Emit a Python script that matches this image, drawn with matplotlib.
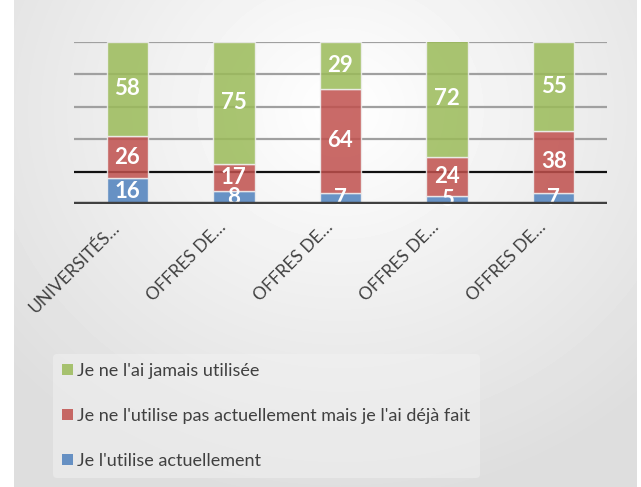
import numpy as np
import matplotlib.pyplot as plt
import matplotlib.transforms as mtransforms
from matplotlib.patches import Patch

plt.rcParams['font.family'] = ['Lato', 'DejaVu Sans']

categories = ["UNIVERSITÉS…", "OFFRES DE…", "OFFRES DE…", "OFFRES DE…", "OFFRES DE…"]
actuel = [16, 8, 7, 5, 7]
deja_fait = [26, 17, 64, 24, 38]
jamais = [58, 75, 29, 72, 55]

series_names = ["Je l'utilise actuellement",
                "Je ne l'utilise pas actuellement mais je l'ai déjà fait",
                "Je ne l'ai jamais utilisée"]
colors = ["#4F81BD", "#C0504D", "#9BBB59"]

W, H = 641, 487
fig = plt.figure(figsize=(W / 100, H / 100), dpi=100, facecolor="white")

# radial grey background
bg = fig.add_axes([14 / W, 0, (637 - 14) / W, 1], zorder=-10)
yy, xx = np.mgrid[0:H, 14:637]
r = np.sqrt(((xx - 340) / 400.0) ** 2 + ((yy - 110) / 360.0) ** 2)
shade = np.clip(1.0 - 0.12 * r, 0.87, 1.0)
bg.imshow(shade, cmap="gray", vmin=0, vmax=1, aspect="auto", interpolation="bilinear")
bg.axis("off")

ax = fig.add_axes([74 / W, 1 - 204 / H, (607 - 74) / W, (204 - 42) / H])
ax.patch.set_alpha(0)
x = np.arange(len(categories))

for lvl in [40, 60, 80, 100]:
    ax.axhline(lvl, color="#a0a0a0", lw=1.6, zorder=1)
ax.axhline(20, color="#111111", lw=1.6, zorder=1)

bottom = np.zeros(len(categories))
for vals, col in zip([actuel, deja_fait, jamais], colors):
    vals = np.array(vals)
    ax.bar(x, vals, 0.39, bottom=bottom, color=col, alpha=0.85,
           edgecolor="#f0f0f0", linewidth=1.0, zorder=2)
    for xi, b, v in zip(x, bottom, vals):
        ax.text(xi, b + v / 2, str(v), ha="center", va="center", color="white",
                fontsize=16, fontweight="bold", zorder=3)
    bottom += vals

ax.axhline(0, color="#404040", lw=3.2, zorder=4)

ax.set_xlim(-0.5, 4.5)
ax.set_ylim(0, 100)
ax.set_yticks([])
for s in ax.spines.values():
    s.set_visible(False)
ax.set_xticks(x)
ax.set_xticklabels(categories, rotation=45, ha="right", rotation_mode="anchor",
                   fontsize=12.5, color="#404040")
ax.tick_params(axis="x", length=0, pad=11)
shift = mtransforms.ScaledTranslation(-16 / 100, 0, fig.dpi_scale_trans)
for lab in ax.get_xticklabels():
    lab.set_transform(lab.get_transform() + shift)

handles = [Patch(facecolor=c, alpha=0.85, edgecolor="none") for c in colors][::-1]
leg = fig.legend(handles, series_names[::-1], loc="upper left",
                 bbox_to_anchor=(44 / W, 1 - 345 / H), frameon=True,
                 fontsize=13, handlelength=0.6, handleheight=0.6,
                 handletextpad=0.25, labelspacing=1.6, borderpad=0.5,
                 labelcolor="#404040")
leg.get_frame().set_facecolor("#f2f2f2")
leg.get_frame().set_alpha(0.5)
leg.get_frame().set_edgecolor("none")

fig.savefig("out.png", dpi=100, facecolor="white")
